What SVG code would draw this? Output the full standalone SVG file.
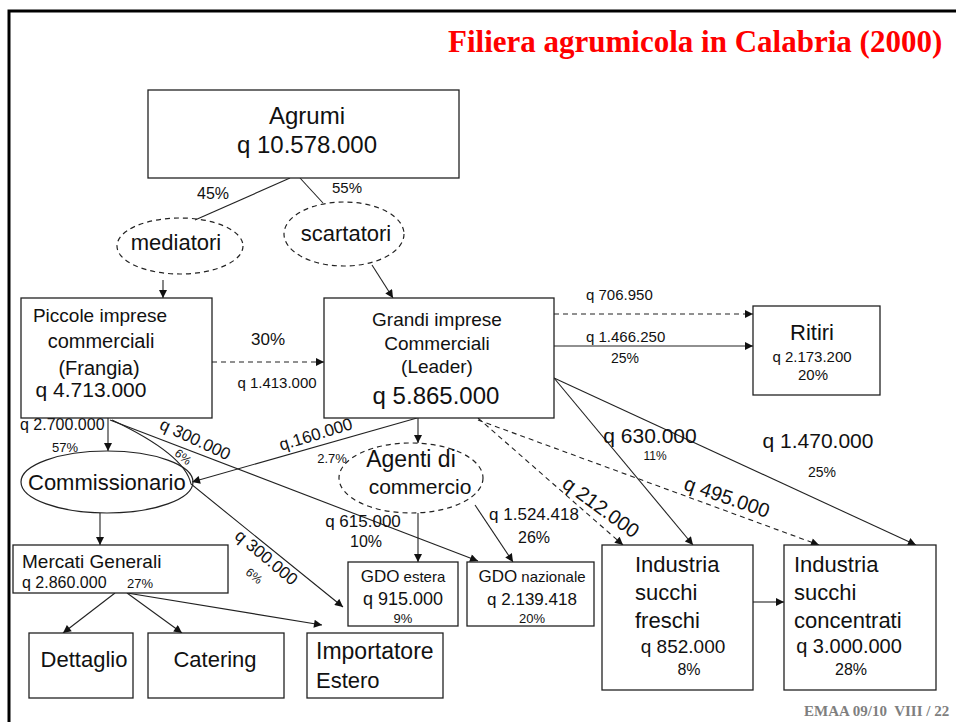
<svg xmlns="http://www.w3.org/2000/svg" width="956" height="722" viewBox="0 0 956 722">
<style>
.t{font-family:"Liberation Sans",Arial,sans-serif;fill:#111}
.c{text-anchor:middle}
.box{fill:#fff;stroke:#222;stroke-width:1.3}
.ell{fill:none;stroke:#222;stroke-width:1.2}
.dash{stroke-dasharray:5 4}
.ln{fill:none;stroke:#222;stroke-width:1.1}
</style>
<defs>
<marker id="ah" viewBox="0 0 10 10" refX="10" refY="5" markerUnits="userSpaceOnUse" markerWidth="9" markerHeight="8" orient="auto">
<path d="M0,0 L10,5 L0,10 z" fill="#111"/>
</marker>
</defs>
<rect x="0" y="0" width="956" height="722" fill="#fff"/>
<rect x="9" y="11" width="960" height="730" fill="none" stroke="#000" stroke-width="3"/>
<text x="448" y="52" font-family="'Liberation Serif','Times New Roman',serif" font-weight="bold" font-size="31" fill="#ff0000">Filiera agrumicola in Calabria (2000)</text>
<text x="804" y="716" font-family="'Liberation Serif','Times New Roman',serif" font-weight="bold" font-size="15" fill="#7f7f7f" style="white-space:pre">EMAA 09/10  VIII / 22</text>

<g id="connectors">
<path class="ln" d="M290,178 L195,220"/>
<path class="ln" d="M300,178 L323,203"/>
<path class="ln" d="M163,280 L163,298" marker-end="url(#ah)"/>
<path class="ln" d="M372,265 L393,298" marker-end="url(#ah)"/>
<path class="ln dash" d="M212,362 L324,362" marker-end="url(#ah)"/>
<path class="ln dash" d="M554,314 L753,314" marker-end="url(#ah)"/>
<path class="ln" d="M554,346 L753,346" marker-end="url(#ah)"/>
<path class="ln" d="M108,418 L108,451" marker-end="url(#ah)"/>
<path class="ln" d="M110,420 L478,561" marker-end="url(#ah)"/>
<path class="ln" d="M112,420 C150,438 186,460 191,484 L343,607" marker-end="url(#ah)"/>
<path class="ln" d="M417,418 L192,482" marker-end="url(#ah)"/>
<path class="ln" d="M418,418 L418,443" marker-end="url(#ah)"/>
<path class="ln" d="M418,513 L418,562" marker-end="url(#ah)"/>
<path class="ln" d="M475,505 L513,562" marker-end="url(#ah)"/>
<path class="ln" d="M100,513 L100,545" marker-end="url(#ah)"/>
<path class="ln" d="M115,593 L63,633" marker-end="url(#ah)"/>
<path class="ln" d="M127,593 L182,633" marker-end="url(#ah)"/>
<path class="ln" d="M127,593 L322,625" marker-end="url(#ah)"/>
<path class="ln" d="M554,378 L693,545" marker-end="url(#ah)"/>
<path class="ln" d="M554,378 L916,545" marker-end="url(#ah)"/>
<path class="ln dash" d="M478,418 L623,545" marker-end="url(#ah)"/>
<path class="ln dash" d="M478,420 L819,545" marker-end="url(#ah)"/>
<path class="ln" d="M753,602 L784,602" marker-end="url(#ah)"/>
</g>

<g id="labels">
<text class="t c" x="213" y="199" font-size="16">45%</text>
<text class="t c" x="347" y="193" font-size="15">55%</text>
<text class="t c" x="268" y="345" font-size="17">30%</text>
<text class="t c" x="277" y="388" font-size="15">q 1.413.000</text>
<text class="t" x="586" y="300" font-size="15">q 706.950</text>
<text class="t" x="586" y="342" font-size="15">q 1.466.250</text>
<text class="t c" x="625" y="363" font-size="14">25%</text>
<text class="t" x="20" y="430" font-size="16">q 2.700.000</text>
<text class="t c" x="65" y="452" font-size="13">57%</text>
<text class="t c" font-size="17" transform="translate(195,440) rotate(25)" x="0" y="5">q 300.000</text>
<text class="t c" font-size="12" transform="translate(183,457) rotate(40)" x="0" y="4">6%</text>
<text class="t c" font-size="17" transform="translate(316,435) rotate(-17)" x="0" y="5">q.160.000</text>
<text class="t c" x="332" y="463" font-size="13">2.7%</text>
<text class="t c" font-size="17" transform="translate(266,558) rotate(40)" x="0" y="5">q 300.000</text>
<text class="t c" font-size="12" transform="translate(254,576) rotate(40)" x="0" y="4">6%</text>
<text class="t c" x="363" y="527" font-size="17">q 615.000</text>
<text class="t c" x="366" y="547" font-size="16">10%</text>
<text class="t c" x="534" y="520" font-size="17">q 1.524.418</text>
<text class="t c" x="534" y="543" font-size="16">26%</text>
<text class="t c" x="650" y="443" font-size="21">q 630.000</text>
<text class="t c" x="655" y="460" font-size="12">11%</text>
<text class="t c" x="818" y="448" font-size="21">q 1.470.000</text>
<text class="t c" x="822" y="477" font-size="14">25%</text>
<text class="t c" font-size="20" transform="translate(601,507) rotate(36)" x="0" y="7">q 212.000</text>
<text class="t c" font-size="20" transform="translate(727,497) rotate(19)" x="0" y="7">q 495.000</text>
</g>

<g id="agrumi">
<rect class="box" x="148" y="90" width="311" height="88"/>
<text class="t c" x="307" y="124" font-size="24">Agrumi</text>
<text class="t c" x="307" y="153" font-size="24">q 10.578.000</text>
</g>
<g id="mediatori">
<ellipse class="ell dash" cx="180" cy="246" rx="63" ry="28"/>
<text class="t c" x="176" y="250" font-size="22">mediatori</text>
</g>
<g id="scartatori">
<ellipse class="ell dash" cx="344" cy="234" rx="60" ry="32"/>
<text class="t c" x="346" y="241" font-size="22">scartatori</text>
</g>
<g id="piccole">
<rect class="box" x="21" y="298" width="191" height="120"/>
<text class="t c" x="100" y="322" font-size="19">Piccole imprese</text>
<text class="t c" x="101" y="348" font-size="20">commerciali</text>
<text class="t c" x="99" y="375" font-size="20">(Frangia)</text>
<text class="t c" x="91" y="397" font-size="21">q 4.713.000</text>
</g>
<g id="grandi">
<rect class="box" x="324" y="298" width="230" height="120"/>
<text class="t c" x="437" y="326" font-size="19">Grandi imprese</text>
<text class="t c" x="437" y="350" font-size="19">Commerciali</text>
<text class="t c" x="437" y="373" font-size="19">(Leader)</text>
<text class="t c" x="436" y="404" font-size="24">q 5.865.000</text>
</g>
<g id="ritiri">
<rect class="box" x="753" y="306" width="127" height="89"/>
<text class="t c" x="812" y="340" font-size="22">Ritiri</text>
<text class="t c" x="812" y="362" font-size="15">q 2.173.200</text>
<text class="t c" x="813" y="380" font-size="15">20%</text>
</g>
<g id="commissionario">
<ellipse class="ell" cx="107" cy="482" rx="86" ry="31"/>
<text class="t" x="28" y="490" font-size="22">Commissionario</text>
</g>
<g id="agenti">
<ellipse class="ell dash" cx="411" cy="478" rx="72" ry="35"/>
<text class="t c" x="411" y="467" font-size="23">Agenti di</text>
<text class="t c" x="420" y="494" font-size="21">commercio</text>
</g>
<g id="mercati">
<rect class="box" x="13" y="545" width="215" height="48"/>
<text class="t" x="22" y="568" font-size="19">Mercati Generali</text>
<text class="t" x="22" y="588" font-size="16">q 2.860.000</text>
<text class="t" x="127" y="588" font-size="13">27%</text>
</g>
<g id="gdo-estera">
<rect class="box" x="348" y="562" width="110" height="64"/>
<text class="t c" x="403" y="582" font-size="15"><tspan font-size="17">GDO</tspan> estera</text>
<text class="t c" x="403" y="605" font-size="18">q 915.000</text>
<text class="t c" x="403" y="623" font-size="13">9%</text>
</g>
<g id="gdo-nazionale">
<rect class="box" x="467" y="562" width="127" height="64"/>
<text class="t c" x="532" y="582" font-size="15"><tspan font-size="17">GDO</tspan> nazionale</text>
<text class="t c" x="532" y="605" font-size="17">q 2.139.418</text>
<text class="t c" x="532" y="623" font-size="13">20%</text>
</g>
<g id="dettaglio">
<rect class="box" x="29" y="633" width="104" height="65"/>
<text class="t c" x="84" y="667" font-size="22">Dettaglio</text>
</g>
<g id="catering">
<rect class="box" x="148" y="633" width="136" height="65"/>
<text class="t c" x="215" y="667" font-size="22">Catering</text>
</g>
<g id="importatore">
<rect class="box" x="307" y="633" width="136" height="65"/>
<text class="t" x="316" y="659" font-size="23">Importatore</text>
<text class="t" x="316" y="688" font-size="22">Estero</text>
</g>
<g id="succhi-freschi">
<rect class="box" x="602" y="545" width="151" height="145"/>
<text class="t" x="635" y="572" font-size="22">Industria</text>
<text class="t" x="635" y="600" font-size="22">succhi</text>
<text class="t" x="635" y="628" font-size="22">freschi</text>
<text class="t c" x="683" y="653" font-size="19">q 852.000</text>
<text class="t c" x="689" y="675" font-size="16">8%</text>
</g>
<g id="succhi-concentrati">
<rect class="box" x="784" y="545" width="152" height="145"/>
<text class="t" x="794" y="572" font-size="22">Industria</text>
<text class="t" x="794" y="600" font-size="22">succhi</text>
<text class="t" x="794" y="628" font-size="22">concentrati</text>
<text class="t c" x="849" y="653" font-size="20">q 3.000.000</text>
<text class="t c" x="851" y="675" font-size="16">28%</text>
</g>
</svg>
